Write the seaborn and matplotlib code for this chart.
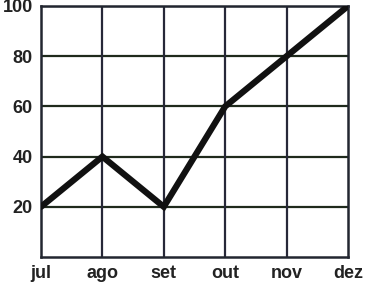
import matplotlib
matplotlib.use("Agg")
import matplotlib.pyplot as plt
import seaborn as sns
import pandas as pd

months = ["jul", "ago", "set", "out", "nov", "dez"]
values = [20, 40, 20, 60, 80, 100]
y_ticks = [20, 40, 60, 80, 100]

sns.set_style("white")
plt.rcParams['font.family'] = ['Liberation Sans', 'DejaVu Sans']

df = pd.DataFrame({"month": months, "value": values})

fig = plt.figure(figsize=(3.67, 2.85), dpi=100)
ax = fig.add_axes([41/367, 28/285, (348-41)/367, (257-6)/285])

x_pos = list(range(len(months)))
df["pos"] = x_pos

# grid
for yv in y_ticks:
    ax.axhline(yv, color="#1f2a1c", lw=1.6, zorder=1)
for xv in x_pos[1:-1]:
    ax.axvline(xv, color="#272838", lw=1.6, zorder=1)

sns.lineplot(data=df, x="pos", y="value", ax=ax, color="#111111", lw=4.5,
             sort=False, zorder=3, solid_joinstyle="miter")

ax.set_xlim(0, 5)
ax.set_ylim(0, 100)
ax.set_xticks(x_pos)
ax.set_xticklabels(months)
ax.set_yticks(y_ticks)
ax.set_yticklabels([str(v) for v in y_ticks])
ax.tick_params(axis="both", length=0, labelsize=13, colors="#222222")
ax.tick_params(axis="x", pad=6)
ax.tick_params(axis="y", pad=6)
for lab in ax.get_xticklabels() + ax.get_yticklabels():
    lab.set_fontweight("bold")
ax.set_xlabel("")
ax.set_ylabel("")
for side, sp in ax.spines.items():
    sp.set_visible(True)
    sp.set_color("#222630")
    sp.set_linewidth(1.8)

fig.savefig("out.png", dpi=100)
